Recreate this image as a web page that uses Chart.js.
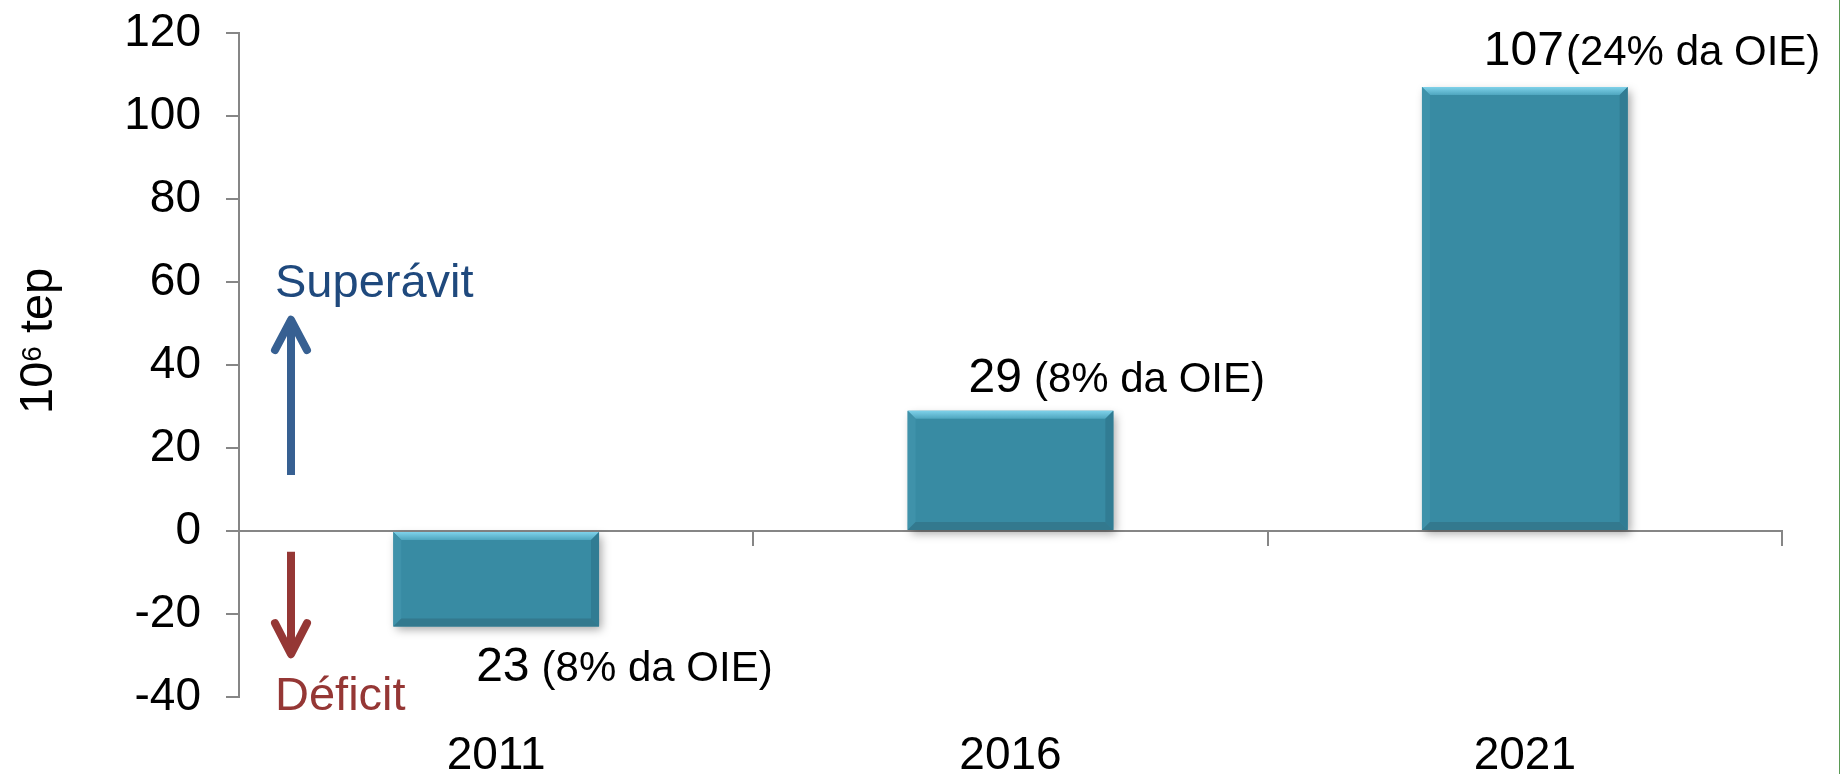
<!DOCTYPE html>
<html>
<head>
<meta charset="utf-8">
<script src="https://cdn.jsdelivr.net/npm/chart.js@4/dist/chart.umd.min.js"></script>
<style>
  html, body { margin: 0; padding: 0; background: #fff; overflow: hidden; }
</style>
</head>
<body>
<canvas id="chart" width="1840" height="774"></canvas>
<script>
// --- data ---
const years = ['2011', '2016', '2021'];
const balance = [-23, 29, 107];
const valueLabels = ['23', '29', '107'];
const shareLabels = ['(8% da OIE)', '(8% da OIE)', '(24% da OIE)'];
const yTickValues = [-40, -20, 0, 20, 40, 60, 80, 100, 120];

// --- look ---
const FONT = '"Liberation Sans", Arial, sans-serif';
const AXIS_GREY = '#868686';
const labelDx = [-20, -42, -41];   // text start relative to bar centre
const labelGap = [55, 19, 22];     // distance from bar end to baseline
const noteGap = [12, 12, 2];

// fills a polygon
function poly(ctx, pts, fill) {
  ctx.beginPath();
  ctx.moveTo(pts[0][0], pts[0][1]);
  pts.slice(1).forEach(p => ctx.lineTo(p[0], p[1]));
  ctx.closePath();
  ctx.fillStyle = fill;
  ctx.fill();
}

// --- soft shadow + bevel on the bars ---
const bevelPlugin = {
  id: 'bevel',
  beforeDatasetsDraw(chart) {
    const c = chart.ctx;
    c.save();
    c.shadowColor = 'rgba(0,0,0,0.35)';
    c.shadowBlur = 9;
    c.shadowOffsetX = 3;
    c.shadowOffsetY = 4;
  },
  afterDatasetsDraw(chart) {
    const c = chart.ctx;
    c.restore();
    chart.getDatasetMeta(0).data.forEach(bar => {
      const { x, y, base, width } = bar.getProps(['x', 'y', 'base', 'width'], true);
      const l = x - width / 2, r = x + width / 2;
      const t = Math.min(y, base), b = Math.max(y, base);
      const s = 8;
      const g = c.createLinearGradient(0, t, 0, t + s);
      g.addColorStop(0, '#7fd2ea');
      g.addColorStop(1, '#4fa6bf');
      poly(c, [[l, t], [r, t], [r - s, t + s], [l + s, t + s]], g);
      poly(c, [[l, t], [l + s, t + s], [l + s, b - s], [l, b]], '#3f92aa');
      poly(c, [[r, t], [r, b], [r - s, b - s], [r - s, t + s]], '#317c93');
      poly(c, [[l, b], [l + s, b - s], [r - s, b - s], [r, b]], '#33798e');
    });
  }
};

// --- value labels, arrows, axis title ---
function arrow(c, x, yFrom, yTip, yHead, color) {
  c.save();
  c.strokeStyle = color;
  c.lineWidth = 8;
  c.lineCap = 'butt';
  c.beginPath();
  c.moveTo(x, yFrom);
  c.lineTo(x, yTip + (yTip < yFrom ? 2 : -2));
  c.stroke();
  c.lineCap = 'round';
  c.lineJoin = 'round';
  c.beginPath();
  c.moveTo(x - 16, yHead);
  c.lineTo(x, yTip);
  c.lineTo(x + 16, yHead);
  c.stroke();
  c.restore();
}

const notesPlugin = {
  id: 'notes',
  afterDraw(chart) {
    const c = chart.ctx;
    const ys = chart.scales.y;
    const area = chart.chartArea;

    c.save();
    c.fillStyle = '#000';
    c.textAlign = 'left';
    c.textBaseline = 'alphabetic';
    chart.getDatasetMeta(0).data.forEach((bar, i) => {
      const x0 = bar.x + labelDx[i];
      const yb = balance[i] >= 0 ? bar.y - labelGap[i] : bar.y + labelGap[i];
      c.font = '48px ' + FONT;
      c.fillText(valueLabels[i], x0, yb);
      const w = c.measureText(valueLabels[i]).width;
      c.font = '42px ' + FONT;
      c.fillText(shareLabels[i], x0 + w + noteGap[i], yb);
    });

    // Superávit / Déficit
    const ax = area.left + 52;
    arrow(c, ax, ys.getPixelForValue(13.5), ys.getPixelForValue(50.9), ys.getPixelForValue(43.6), '#376092');
    arrow(c, ax, ys.getPixelForValue(-5), ys.getPixelForValue(-29.7), ys.getPixelForValue(-22.2), '#953735');
    c.font = '47px ' + FONT;
    c.fillStyle = '#1f497d';
    c.fillText('Superávit', area.left + 36, ys.getPixelForValue(56.4));
    c.fillStyle = '#953735';
    c.fillText('Déficit', area.left + 36, ys.getPixelForValue(-43.2));

    // y title: 10^6 tep
    c.translate(52, 414);
    c.rotate(-Math.PI / 2);
    c.fillStyle = '#000';
    c.font = '47px ' + FONT;
    c.fillText('10', 0, 0);
    let px = c.measureText('10').width;
    c.font = '28px ' + FONT;
    c.fillText('6', px, -11);
    px += c.measureText('6').width;
    c.font = '47px ' + FONT;
    c.fillText(' tep', px, 0);
    c.restore();

    // thin frame line on the right edge
    c.fillStyle = '#5a9a55';
    c.fillRect(1839, 0, 1, 774);
  }
};

function noPad(s) {
  s.paddingTop = 0;
  s.paddingBottom = 0;
}

new Chart(document.getElementById('chart'), {
  type: 'bar',
  data: {
    labels: years,
    datasets: [{
      data: balance,
      backgroundColor: '#388ba3',
      borderWidth: 0,
      categoryPercentage: 1,
      barPercentage: 0.4
    }]
  },
  options: {
    responsive: false,
    animation: false,
    devicePixelRatio: 1,
    layout: { padding: { top: 33, right: 58, left: 0, bottom: 0 } },
    plugins: {
      legend: { display: false },
      tooltip: { enabled: false }
    },
    scales: {
      x: {
        position: 'bottom',
        grid: { display: false },
        border: { display: false },
        ticks: { font: { family: FONT, size: 46 }, color: '#000', padding: 24, maxRotation: 0 },
        afterFit: s => { s.height = 77; }
      },
      x2: {
        axis: 'x',
        type: 'category',
        position: { y: 0 },
        offset: true,
        grid: { offset: true, drawOnChartArea: false, tickLength: 14, color: AXIS_GREY, lineWidth: 2 },
        border: { color: AXIS_GREY, width: 2 },
        ticks: { display: false },
        afterFit: s => { noPad(s); s.height = 0; }
      },
      y: {
        min: yTickValues[0],
        max: yTickValues[yTickValues.length - 1],
        afterBuildTicks: s => { s.ticks = yTickValues.map(v => ({ value: v })); },
        ticks: { font: { family: FONT, size: 46 }, color: '#000', padding: 25 },
        grid: { drawOnChartArea: false, tickLength: 13, color: AXIS_GREY, lineWidth: 2 },
        border: { color: AXIS_GREY, width: 2 },
        afterFit: s => { noPad(s); s.width = 239; }
      }
    }
  },
  plugins: [bevelPlugin, notesPlugin]
});
</script>
</body>
</html>
